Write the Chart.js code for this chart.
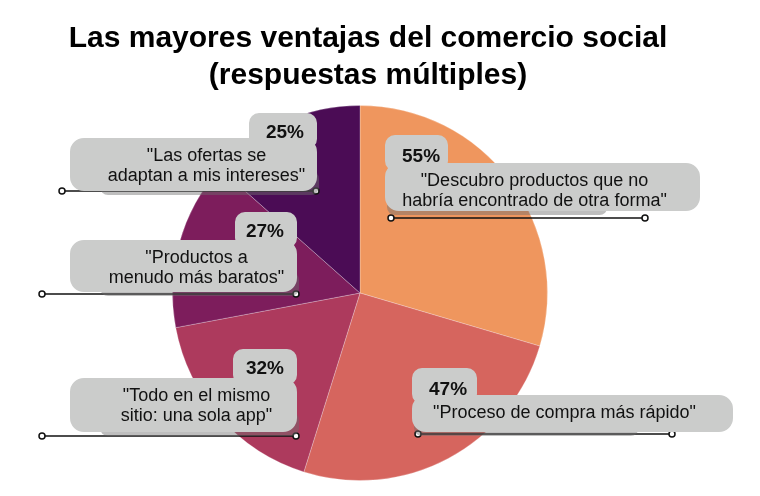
<!DOCTYPE html>
<html>
<head>
<meta charset="utf-8">
<script src="https://cdn.jsdelivr.net/npm/chart.js@4"></script>
<style>
  html, body { margin: 0; padding: 0; background: #fff; }
  #wrap { width: 760px; height: 496px; }
</style>
</head>
<body>
<div id="wrap"><canvas id="pie-chart"></canvas></div>
<script>
var titleLines = ["Las mayores ventajas del comercio social", "(respuestas múltiples)"];
var labelsData = [
    ['"Descubro productos que no', 'habría encontrado de otra forma"'],
    ['"Proceso de compra más rápido"'],
    ['"Todo en el mismo', 'sitio: una sola app"'],
    ['"Productos a', 'menudo más baratos"'],
    ['"Las ofertas se', 'adaptan a mis intereses"']
];
var inputData = [55, 47, 32, 27, 25]; // % of answers
var background = ["#EF965E", "#D6655E", "#AD3A5D", "#7D1D5C", "#4B0C55"];

// callout placement, px relative to pie centre
var callouts = [
    { side: "right", l: 25,   t: -130, w: 315, h: 48, tabT: -158, tabW: 63, lineY: -75 },
    { side: "right", l: 52,   t: 102,  w: 321, h: 37, tabT: 75,   tabW: 65, lineY: 141 },
    { side: "left",  l: -290, t: 85,   w: 227, h: 54, tabT: 56,   tabW: 64, lineY: 143 },
    { side: "left",  l: -290, t: -53,  w: 227, h: 52, tabT: -81,  tabW: 62, lineY: 1 },
    { side: "left",  l: -290, t: -155, w: 247, h: 53, tabT: -180, tabW: 68, lineY: -102 }
];

var titlePlugin = {
    id: "bigTitle",
    afterDraw: function (chart) {
        var ctx = chart.ctx;
        ctx.save();
        ctx.fillStyle = "#000";
        ctx.font = "bold 30px 'Liberation Sans', Arial, sans-serif";
        ctx.textAlign = "center";
        ctx.textBaseline = "alphabetic";
        ctx.fillText(titleLines[0], 368, 47);
        ctx.fillText(titleLines[1], 368, 84);
        ctx.restore();
    }
};

function dot(ctx, x, y) {
    ctx.beginPath();
    ctx.arc(x, y, 3, 0, Math.PI * 2);
    ctx.fillStyle = "#fff";
    ctx.fill();
    ctx.lineWidth = 1.5;
    ctx.strokeStyle = "#111";
    ctx.stroke();
}

var calloutPlugin = {
    id: "callouts",
    afterDatasetsDraw: function (chart) {
        var ctx = chart.ctx;
        var arc = chart.getDatasetMeta(0).data[0];
        var cx = arc.x, cy = arc.y;
        ctx.save();
        callouts.forEach(function (c, i) {
            var l = cx + c.l, t = cy + c.t, r = l + c.w, b = t + c.h;
            var left = c.side === "left";
            var tabL = left ? r - c.tabW : l;
            var tabT = cy + c.tabT;
            var ly = cy + c.lineY;
            var x1 = left ? r - 255 : l + 6;
            var x2 = left ? r - 1 : l + 260;

            // leader line
            ctx.beginPath();
            ctx.moveTo(x1, ly);
            ctx.lineTo(x2, ly);
            ctx.lineWidth = 1.5;
            ctx.strokeStyle = "#111";
            ctx.stroke();
            dot(ctx, x1, ly);
            dot(ctx, x2, ly);

            // shadow layer just under the box
            ctx.beginPath();
            if (left) ctx.roundRect(l + 30, b - 20, c.w - 28, 24, 8);
            else ctx.roundRect(l + 2, b - 20, c.w * 0.7, 24, 8);
            ctx.fillStyle = "rgba(110,110,110,0.45)";
            ctx.fill();

            // box + tab
            ctx.beginPath();
            ctx.roundRect(l, t, c.w, c.h, 14);
            ctx.roundRect(tabL, tabT, c.tabW, 36, 10);
            ctx.fillStyle = "#CBCCCB";
            ctx.fill();

            // percent
            ctx.fillStyle = "#111";
            ctx.font = "bold 19px 'Liberation Sans', Arial, sans-serif";
            ctx.textBaseline = "alphabetic";
            if (left) {
                ctx.textAlign = "right";
                ctx.fillText(inputData[i] + "%", tabL + c.tabW - 13, tabT + 25);
            } else {
                ctx.textAlign = "left";
                ctx.fillText(inputData[i] + "%", tabL + 17, tabT + 27);
            }

            // label text
            ctx.font = "18px 'Liberation Sans', Arial, sans-serif";
            ctx.textAlign = "center";
            var tx = (l + r) / 2 + (left ? 13 : -8);
            labelsData[i].forEach(function (line, k) {
                ctx.fillText(line, tx, t + 23 + k * 20);
            });
        });
        ctx.restore();
    }
};

var config = {
    type: "pie",
    data: {
        labels: labelsData.map(function (l) { return l.join(" "); }),
        datasets: [{
            data: inputData,
            backgroundColor: background,
            borderColor: "rgba(255,255,255,0.25)",
            borderWidth: 1
        }]
    },
    options: {
        responsive: true,
        maintainAspectRatio: false,
        animation: false,
        layout: { padding: { top: 105, bottom: 15, left: 0, right: 40 } },
        plugins: {
            legend: false,
            tooltip: { enabled: false },
            title: { display: false }
        }
    },
    plugins: [calloutPlugin, titlePlugin]
};

var pieChart = new Chart(document.getElementById("pie-chart"), config);
</script>
</body>
</html>
